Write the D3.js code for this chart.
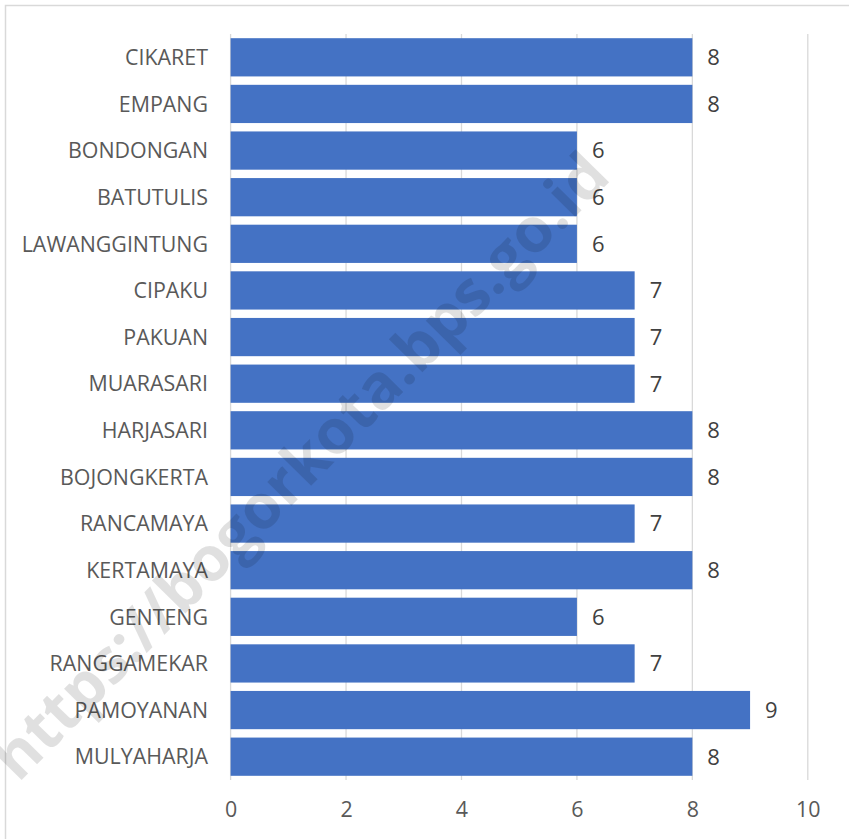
<!DOCTYPE html>
<html>
<head>
<meta charset="utf-8">
<script src="https://cdn.jsdelivr.net/npm/d3@7"></script>
<style>
html,body{margin:0;padding:0;background:#fff;}
svg{display:block;}
text{font-family:"Open Sans","Noto Sans",sans-serif;}
</style>
</head>
<body>
<svg id="chart" width="849" height="839"></svg>
<script>
const categories = ["CIKARET","EMPANG","BONDONGAN","BATUTULIS","LAWANGGINTUNG","CIPAKU","PAKUAN","MUARASARI","HARJASARI","BOJONGKERTA","RANCAMAYA","KERTAMAYA","GENTENG","RANGGAMEKAR","PAMOYANAN","MULYAHARJA"];
const values = [8,8,6,6,6,7,7,7,8,8,7,8,6,7,9,8];
const xTicks = [0,2,4,6,8,10];
const watermark = "https://bogorkota.bps.go.id";

const svg = d3.select("#chart");

// outer chart border (top and left visible)
svg.append("rect")
  .attr("x",5.5).attr("y",5.5).attr("width",900).attr("height",900)
  .attr("fill","none").attr("stroke","#d9d9d9").attr("stroke-width",1.5);

const x = d3.scaleLinear().domain([0,10]).range([230.6,807.8]);
const y = d3.scaleBand().domain(categories).range([34,780]).paddingInner(0.18).paddingOuter(0.09);

// gridlines
svg.append("g").selectAll("line").data(xTicks).join("line")
  .attr("x1",d=>x(d)).attr("x2",d=>x(d))
  .attr("y1",34).attr("y2",780)
  .attr("stroke","#d9d9d9").attr("stroke-width",1.3);

// bars
svg.append("g").selectAll("rect").data(values).join("rect")
  .attr("x",x(0))
  .attr("y",(d,i)=>y(categories[i]))
  .attr("width",d=>x(d)-x(0))
  .attr("height",y.bandwidth())
  .attr("fill","#4472c4");

// value labels
svg.append("g").selectAll("text").data(values).join("text")
  .attr("x",d=>x(d)+15)
  .attr("y",(d,i)=>y(categories[i])+y.bandwidth()/2)
  .attr("dy","0.36em")
  .attr("font-size",22)
  .attr("fill","#404040")
  .text(d=>d);

// category axis
const yAxis = d3.axisLeft(y).tickSize(0).tickPadding(0);
const gy = svg.append("g").attr("transform","translate(208,0)").call(yAxis);
gy.select(".domain").remove();
gy.selectAll("text").attr("font-size",21.4).attr("fill","#595959")
  .attr("font-family","'Open Sans','Noto Sans',sans-serif").attr("dy","0.36em");

// x axis
const xAxis = d3.axisBottom(x).tickValues(xTicks).tickSize(0).tickPadding(0);
const gx = svg.append("g").attr("transform","translate(0,809)").call(xAxis);
gx.select(".domain").remove();
gx.selectAll("text").attr("font-size",21.4).attr("fill","#595959")
  .attr("font-family","'Open Sans','Noto Sans',sans-serif").attr("dy","0.36em");

// watermark
svg.append("text")
  .attr("transform","translate(300,466) rotate(-45.5)")
  .attr("text-anchor","middle")
  .attr("dy","0.35em")
  .attr("font-family","'Liberation Sans',Arial,sans-serif")
  .attr("font-weight","bold")
  .attr("font-size",62)
  .attr("fill","#000")
  .attr("fill-opacity",0.12)
  .text(watermark);
</script>
</body>
</html>
